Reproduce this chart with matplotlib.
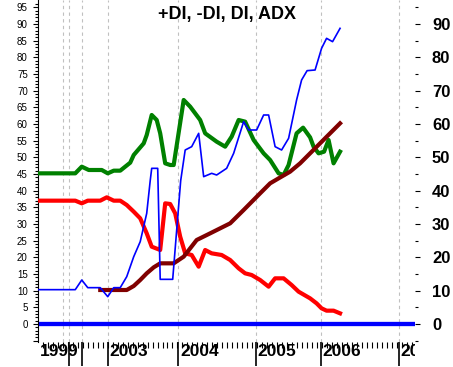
import numpy as np
import matplotlib
matplotlib.use('Agg')
import matplotlib.pyplot as plt
from matplotlib.ticker import FuncFormatter
from matplotlib.transforms import Bbox, TransformedBbox

plt.rcParams['font.family'] = ['Liberation Sans', 'DejaVu Sans']

# bar positions (x) and values
plus_x = [0, 7.4, 8.7, 9.9, 12.4, 13.9, 15.1, 16.4, 17.7, 19.1, 20.4, 21.7, 22.4, 22.7,
          23.9, 24.4, 25.4, 26.9, 28.5, 29.4, 30.7, 32.1, 33.1, 34.7, 35.7, 37.7, 39.1,
          41.1, 42.1, 43.7, 45.1, 46.1, 47.4, 48.7, 50.1, 51.7, 52.7, 53.8, 55.4, 56.7,
          57.7, 58.9, 60.4]
plus_di = [10.3, 10.3, 13.2, 10.9, 10.9, 8.2, 10.9, 10.9, 14.2, 20.2, 24.7, 33.2, 43.0, 46.7,
           46.7, 13.4, 13.4, 13.4, 43.0, 52.2, 53.2, 57.2, 44.2, 45.2, 44.7, 46.7, 51.2,
           60.7, 58.2, 58.2, 62.7, 62.7, 53.2, 52.2, 55.7, 67.2, 73.2, 76.0, 76.2, 82.7,
           85.7, 84.7, 88.7]

minus_x = [0, 7.4, 8.7, 9.9, 12.4, 13.7, 15.1, 16.4, 17.7, 19.1, 20.4, 21.7, 22.7, 24.4,
           25.4, 26.4, 27.4, 28.4, 29.4, 30.7, 32.1, 33.4, 34.7, 36.7, 38.4, 40.1, 41.4,
           42.7, 44.4, 46.1, 47.4, 49.1, 50.7, 52.1, 54.4, 55.7, 56.7, 57.7, 59.1, 60.4]
minus_di = [37.0, 37.0, 36.2, 37.0, 37.0, 38.0, 37.0, 37.0, 35.7, 33.7, 31.7, 27.2, 23.2, 22.2,
            36.2, 36.0, 33.2, 26.2, 21.2, 20.7, 17.2, 22.2, 21.2, 20.7, 19.2, 16.7, 15.2,
            14.7, 13.2, 11.2, 13.7, 13.7, 11.7, 9.7, 7.7, 6.2, 4.7, 4.0, 4.0, 3.2]

di_x = [0, 7.4, 8.7, 10.1, 12.7, 13.9, 15.1, 16.4, 18.4, 19.1, 21.1, 21.7, 22.7, 23.7,
        24.4, 25.4, 26.4, 27.1, 29.1, 30.4, 32.4, 33.4, 35.7, 37.4, 38.7, 40.1, 41.4,
        43.1, 45.1, 46.4, 48.1, 49.1, 50.1, 51.7, 53.0, 54.4, 55.1, 56.1, 57.2, 58.1,
        59.1, 60.4]
di = [45.2, 45.2, 47.2, 46.2, 46.2, 45.2, 46.0, 46.0, 48.4, 50.7, 54.2, 56.7, 62.7, 61.2,
      57.2, 48.2, 47.7, 47.7, 67.2, 65.2, 61.2, 57.2, 54.7, 53.2, 56.2, 61.2, 60.7,
      55.2, 51.2, 49.2, 45.2, 44.7, 47.7, 57.2, 58.9, 56.0, 53.2, 51.2, 51.7, 55.2,
      48.2, 51.7]

adx_x = [12.4, 17.7, 19.1, 20.4, 21.7, 23.1, 24.4, 27.1, 29.1, 31.7, 34.4, 38.4, 41.1,
         44.4, 46.4, 48.1, 50.4, 52.4, 54.4, 56.4, 60.4]
adx = [10.2, 10.2, 11.4, 13.2, 15.2, 17.0, 18.2, 18.2, 20.2, 25.2, 27.2, 30.2, 34.2,
       39.2, 42.2, 43.7, 45.7, 48.2, 51.2, 54.2, 60.2]

year_pos = [6.06, 8.74, 13.94, 28.06, 43.6, 56.54, 72.2]
grid_pos = [4.86, 6.06, 8.74, 13.94, 28.06, 43.6, 56.54, 72.2]
year_labels = ['1999', '2003', '2004', '2005', '2006', '2007']
year_label_pos = [0.06, 13.94, 28.06, 43.6, 56.54, 72.2]

fig = plt.figure(figsize=(4.53, 3.67), dpi=100)
ax = fig.add_axes([38.3 / 453, 25 / 367, (415 - 38.3) / 453, 342 / 367])
ax.set_xlim(0, 75.4)
ax.set_ylim(-5.4, 97.2)

for g in grid_pos:
    ax.axvline(g, color='#c0c0c0', lw=0.8, ls=(0, (3, 3)), zorder=1)

ax.axhline(0, color='#0000ff', lw=3.1, zorder=2)
ax.plot(di_x, di, color='#008000', lw=3.0, zorder=3)
ax.plot(minus_x, minus_di, color='#ff0000', lw=3.0, zorder=4)
ax.plot(adx_x, adx, color='#800000', lw=3.0, zorder=5)
ax.plot(plus_x, plus_di, color='#0000ff', lw=1.2, zorder=6)

for s in ['top', 'right', 'bottom']:
    ax.spines[s].set_visible(False)
ax.spines['left'].set_linewidth(0.8)

ax.set_yticks(np.arange(-5, 96, 5))
ax.set_yticks(np.arange(-5, 97, 1), minor=True)
ax.yaxis.set_major_formatter(FuncFormatter(lambda v, p: '' if v < 0 else '%d' % v))
ax.tick_params(axis='y', which='major', length=3.6, width=0.8, labelsize=7, pad=4)
ax.tick_params(axis='y', which='minor', length=2, width=0.8)

ax.set_xticks(year_pos)
ax.set_xticklabels([])
ax.set_xticks(np.arange(0.86, 75.3, 1), minor=True)
ax.tick_params(axis='x', which='major', length=17.3, width=1.2)
ax.tick_params(axis='x', which='minor', length=4, width=0.8)

clip = TransformedBbox(Bbox([[0, -1], [1, 1]]), ax.transAxes)
for pos, lab in zip(year_label_pos, year_labels):
    t = ax.annotate(lab, xy=(pos, 0), xycoords=ax.get_xaxis_transform(),
                    xytext=(1.2, -1.2), textcoords='offset points',
                    ha='left', va='top', fontsize=12.5, fontweight='bold',
                    annotation_clip=False)
    t.set_clip_box(clip)
    t.set_clip_on(True)

ax.text(0.5, 1 - 14 / 342, '+DI, -DI, DI, ADX', transform=ax.transAxes,
        ha='center', va='center', fontsize=13, fontweight='bold')

ax2 = ax.twinx()
ax2.set_ylim(-5.4, 97.2)
for s in ax2.spines.values():
    s.set_visible(False)
ax2.set_yticks(np.arange(0, 91, 10))
ax2.set_yticks(np.arange(-5, 96, 10), minor=True)
ax2.tick_params(axis='y', which='major', length=3.6, width=0.8, labelsize=12, pad=8.6)
ax2.tick_params(axis='y', which='minor', length=2.2, width=0.8)
for lab in ax2.get_yticklabels():
    lab.set_fontweight('bold')

fig.savefig('out.png', dpi=100)
